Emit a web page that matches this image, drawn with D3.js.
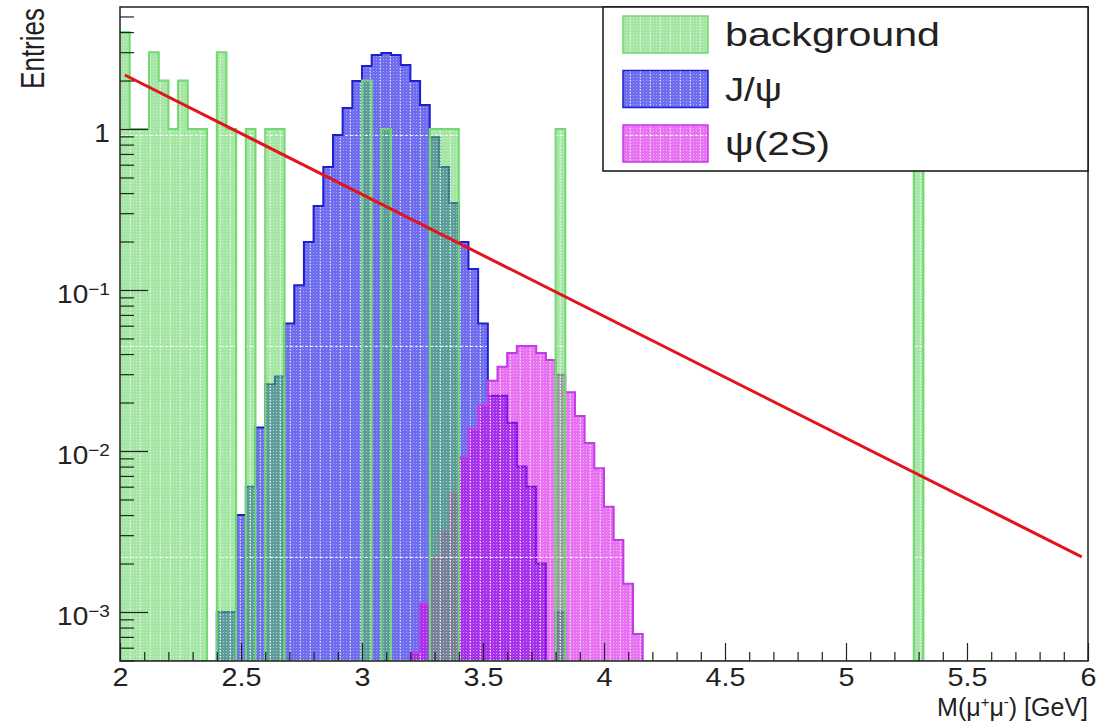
<!DOCTYPE html>
<html>
<head>
<meta charset="utf-8">
<script src="https://cdn.jsdelivr.net/npm/d3@7"></script>
<style>
body { margin: 0; background: #fff; }
text { font-family: "Liberation Sans", Arial, Helvetica, sans-serif; fill: #222; }
</style>
</head>
<body>
<div id="chart"></div>
<script>
var margin = { top: 7, right: 18, bottom: 60, left: 120 };
var width = 1106 - margin.left - margin.right,
	height = 721 - margin.top - margin.bottom;

// histogram binning: 100 bins of 0.04 GeV between 2 and 6 GeV
var massRange = [2, 6];
var binWidth = 0.04;
var yRange = [4.96e-4, 5.725];

// entries per bin
var background = [
	4, 1, 1, 3, 2, 1, 2, 1, 1, 0,   3, 1, 0, 1, 0, 1, 1, 0, 0, 0,
	0, 0, 0, 0, 0, 2, 0, 1, 0, 0,   0, 0, 1, 1, 1, 0, 0, 0, 0, 0,
	0, 0, 0, 0, 0, 1, 0, 0, 0, 0,   0, 0, 0, 0, 0, 0, 0, 0, 0, 0,
	0, 0, 0, 0, 0, 0, 0, 0, 0, 0,   0, 0, 0, 0, 0, 0, 0, 0, 0, 0,
	0, 0, 1, 0, 0, 0, 0, 0, 0, 0,   0, 0, 0, 0, 0, 0, 0, 0, 0, 0
];
var jpsi = [
	0, 0, 0, 0, 0, 0, 0, 0, 0, 0,
	0.001, 0.001, 0.004, 0.006, 0.014, 0.026, 0.029, 0.062, 0.107, 0.199,
	0.332, 0.581, 0.918, 1.35, 1.99, 2.46, 2.88, 2.97, 2.88, 2.50,
	1.99, 1.41, 0.89, 0.581, 0.347, 0.199, 0.135, 0.062, 0.022, 0.022,
	0.015, 0.008, 0.006, 0.002, 0, 0.001, 0, 0, 0, 0,
	0, 0, 0, 0, 0, 0, 0, 0, 0, 0,   0, 0, 0, 0, 0, 0, 0, 0, 0, 0,
	0, 0, 0, 0, 0, 0, 0, 0, 0, 0,   0, 0, 0, 0, 0, 0, 0, 0, 0, 0,
	0, 0, 0, 0, 0, 0, 0, 0, 0, 0
];
var psi2s = [
	0, 0, 0, 0, 0, 0, 0, 0, 0, 0,   0, 0, 0, 0, 0, 0, 0, 0, 0, 0,
	0, 0, 0, 0, 0, 0, 0, 0, 0, 0,
	0.00056, 0.00113, 0.0022, 0.0032, 0.0055, 0.0091, 0.0137, 0.0193, 0.0273, 0.0334,
	0.0406, 0.0449, 0.0449, 0.0406, 0.0367, 0.0297, 0.0232, 0.0165, 0.0112, 0.0078,
	0.0045, 0.0028, 0.0015, 0.00073, 0, 0, 0, 0, 0, 0,
	0, 0, 0, 0, 0, 0, 0, 0, 0, 0,   0, 0, 0, 0, 0, 0, 0, 0, 0, 0,
	0, 0, 0, 0, 0, 0, 0, 0, 0, 0,   0, 0, 0, 0, 0, 0, 0, 0, 0, 0
];
// exponential fit, straight on the log axis: [mass, entries] at both ends
var fitPoints = [[2.02, 2.165], [5.974, 0.0022]];

var xMajorTicks = [2, 2.5, 3, 3.5, 4, 4.5, 5, 5.5, 6];
var xTickLabels = ["2", "2.5", "3", "3.5", "4", "4.5", "5", "5.5", "6"];
var yMajorTicks = [0.001, 0.01, 0.1, 1];
var yTickLabels = [["10", "\u22123"], ["10", "\u22122"], ["10", "\u22121"], ["1", ""]];
var legendNames = ["background", "J/\u03c8", "\u03c8(2S)"];

var svg = d3.select("#chart").append("svg")
	.attr("width", 1106)
	.attr("height", 721);

var defs = svg.append("defs");

defs.append("clipPath").attr("id", "plotClip")
	.append("rect").attr("width", width).attr("height", height);

// fine dot texture like the ROOT fill pattern
var dots = defs.append("pattern")
	.attr("id", "dots")
	.attr("patternUnits", "userSpaceOnUse")
	.attr("width", 3).attr("height", 3);
dots.append("rect").attr("width", 1).attr("height", 1)
	.attr("fill", "#fff").attr("fill-opacity", 0.35);

function makeFill(id, color, alpha) {
	var p = defs.append("pattern")
		.attr("id", id)
		.attr("patternUnits", "userSpaceOnUse")
		.attr("x", 0).attr("y", 128)
		.attr("width", 10).attr("height", 211);
	p.append("rect").attr("width", 10).attr("height", 211)
		.attr("fill", color).attr("fill-opacity", alpha);
	p.append("rect").attr("width", 10).attr("height", 211)
		.attr("fill", "url(#dots)");
	p.append("line")
		.attr("x1", 0.5).attr("x2", 0.5).attr("y1", 0).attr("y2", 211)
		.attr("stroke", "#fff").attr("stroke-opacity", 0.55)
		.attr("stroke-dasharray", "2,1");
	p.append("line")
		.attr("x1", 0).attr("x2", 10).attr("y1", 0.5).attr("y2", 0.5)
		.attr("stroke", "#fff").attr("stroke-opacity", 0.8)
		.attr("stroke-dasharray", "3,2");
}
makeFill("fillJpsi", "rgb(40,40,228)", 0.68);
makeFill("fillPsi2s", "rgb(210,0,230)", 0.55);
makeFill("fillBkg", "rgb(75,205,75)", 0.5);

var series = [
	{ name: legendNames[1], values: jpsi, fill: "url(#fillJpsi)", line: "#1e1ed2" },
	{ name: legendNames[2], values: psi2s, fill: "url(#fillPsi2s)", line: "#c43ae6" },
	{ name: legendNames[0], values: background, fill: "url(#fillBkg)", line: "#72d872" }
];

var chartGroup = svg.append("g")
	.attr("transform", "translate(" + margin.left + "," + margin.top + ")");

var x = d3.scaleLinear().domain(massRange).range([0, width]);
var y = d3.scaleLog().domain(yRange).range([height, 0]);

function yPos(v) { return v > 0 ? Math.min(height, y(v)) : height; }

function binPoints(values) {
	var pts = values.map(function(v, i) { return { m: massRange[0] + i * binWidth, v: v }; });
	pts.push({ m: massRange[1], v: values[values.length - 1] });
	return pts;
}

var area = d3.area()
	.curve(d3.curveStepAfter)
	.x(function(d) { return x(d.m); })
	.y0(height)
	.y1(function(d) { return yPos(d.v); });

var outline = d3.line()
	.curve(d3.curveStepAfter)
	.x(function(d) { return x(d.m); })
	.y(function(d) { return yPos(d.v); });

var histGroup = chartGroup.append("g").attr("clip-path", "url(#plotClip)");

series.forEach(function(s) {
	var pts = binPoints(s.values);
	histGroup.append("path")
		.attr("d", area(pts))
		.attr("fill", s.fill);
	histGroup.append("path")
		.attr("d", outline(pts))
		.attr("fill", "none")
		.attr("stroke", s.line)
		.attr("stroke-width", 2);
});

// fit line
var fitLine = d3.line()
	.x(function(d) { return x(d[0]); })
	.y(function(d) { return y(d[1]); });

histGroup.append("path")
	.attr("d", fitLine(fitPoints))
	.attr("fill", "none")
	.attr("stroke", "#e3141b")
	.attr("stroke-width", 3);

// axes
var xMinor = d3.range(21, 60).map(function(i) { return i / 10; })
	.filter(function(d) { return xMajorTicks.indexOf(d) < 0; });

var xAxis = d3.axisBottom(x)
	.tickValues(xMajorTicks)
	.tickSizeInner(-18).tickSizeOuter(0).tickPadding(7)
	.tickFormat(function(d, i) { return xTickLabels[i]; });

var xAxisMinor = d3.axisBottom(x)
	.tickValues(xMinor)
	.tickSizeInner(-9).tickSizeOuter(0)
	.tickFormat("");

var yMinor = [];
[-4, -3, -2, -1, 0].forEach(function(e) {
	for (var k = 2; k <= 9; k++) {
		var v = k * Math.pow(10, e);
		if (v > yRange[0] && v < yRange[1]) yMinor.push(v);
	}
});

var yAxis = d3.axisLeft(y)
	.tickValues(yMajorTicks)
	.tickSizeInner(-28).tickSizeOuter(0).tickPadding(9)
	.tickFormat("");

var yAxisMinor = d3.axisLeft(y)
	.tickValues(yMinor)
	.tickSizeInner(-14).tickSizeOuter(0)
	.tickFormat("");

function styleAxis(sel) {
	sel.select(".domain").remove();
	sel.selectAll("line").attr("stroke", "#222").attr("stroke-width", 1.2);
	sel.attr("font-family", null).attr("font-size", null);
}

chartGroup.append("g")
	.attr("class", "axis x minor")
	.attr("transform", "translate(0," + height + ")")
	.call(xAxisMinor).call(styleAxis);

chartGroup.append("g")
	.attr("class", "axis x")
	.attr("transform", "translate(0," + height + ")")
	.call(xAxis).call(styleAxis)
	.selectAll("text")
	.attr("transform", "scale(1.15,1)")
	.style("font-size", "25px");

chartGroup.append("g")
	.attr("class", "axis y minor")
	.call(yAxisMinor).call(styleAxis);

chartGroup.append("g")
	.attr("class", "axis y")
	.call(yAxis).call(styleAxis)
	.selectAll(".tick text")
	.attr("dy", "0.5em")
	.attr("transform", "scale(1.12,1)")
	.style("font-size", "25px")
	.each(function(d, i) {
		var t = d3.select(this);
		t.text(yTickLabels[i][0]);
		if (yTickLabels[i][1]) {
			t.append("tspan")
				.attr("dy", "-0.45em")
				.style("font-size", "17px")
				.text(yTickLabels[i][1]);
		}
	});

// frame
chartGroup.append("rect")
	.attr("width", width)
	.attr("height", height)
	.attr("fill", "none")
	.attr("stroke", "#222")
	.attr("stroke-width", 1.5);

// axis titles
svg.append("text")
	.attr("transform", "translate(44,8) scale(1.3,1) rotate(-90)")
	.attr("text-anchor", "end")
	.style("font-size", "26px")
	.text("Entries");

var xTitle = svg.append("text")
	.attr("x", 1088)
	.attr("y", 716)
	.attr("text-anchor", "end")
	.style("font-size", "25px");
xTitle.append("tspan").text("M(\u03bc");
xTitle.append("tspan").attr("dy", -9).style("font-size", "15px").text("+");
xTitle.append("tspan").attr("dy", 9).text("\u03bc");
xTitle.append("tspan").attr("dy", -9).style("font-size", "15px").text("-");
xTitle.append("tspan").attr("dy", 9).text(") [GeV]");

// legend
var legend = chartGroup.append("g").attr("class", "legend");
legend.append("rect")
	.attr("x", 483).attr("y", 0)
	.attr("width", width - 483).attr("height", 164)
	.attr("fill", "#fff")
	.attr("stroke", "#111")
	.attr("stroke-width", 1.5);

var legendItems = [series[2], series[0], series[1]];
var legendTextWidths = [215, 57, 105];
legendItems.forEach(function(s, i) {
	legend.append("rect")
		.attr("x", 503).attr("y", 9 + i * 54.5)
		.attr("width", 85).attr("height", 37)
		.attr("fill", s.fill)
		.attr("stroke", s.line)
		.attr("stroke-width", 1.5);
	legend.append("text")
		.attr("x", 605).attr("y", 39 + i * 54.5)
		.attr("textLength", legendTextWidths[i])
		.attr("lengthAdjust", "spacingAndGlyphs")
		.style("font-size", "34px")
		.text(s.name);
});
</script>
</body>
</html>
